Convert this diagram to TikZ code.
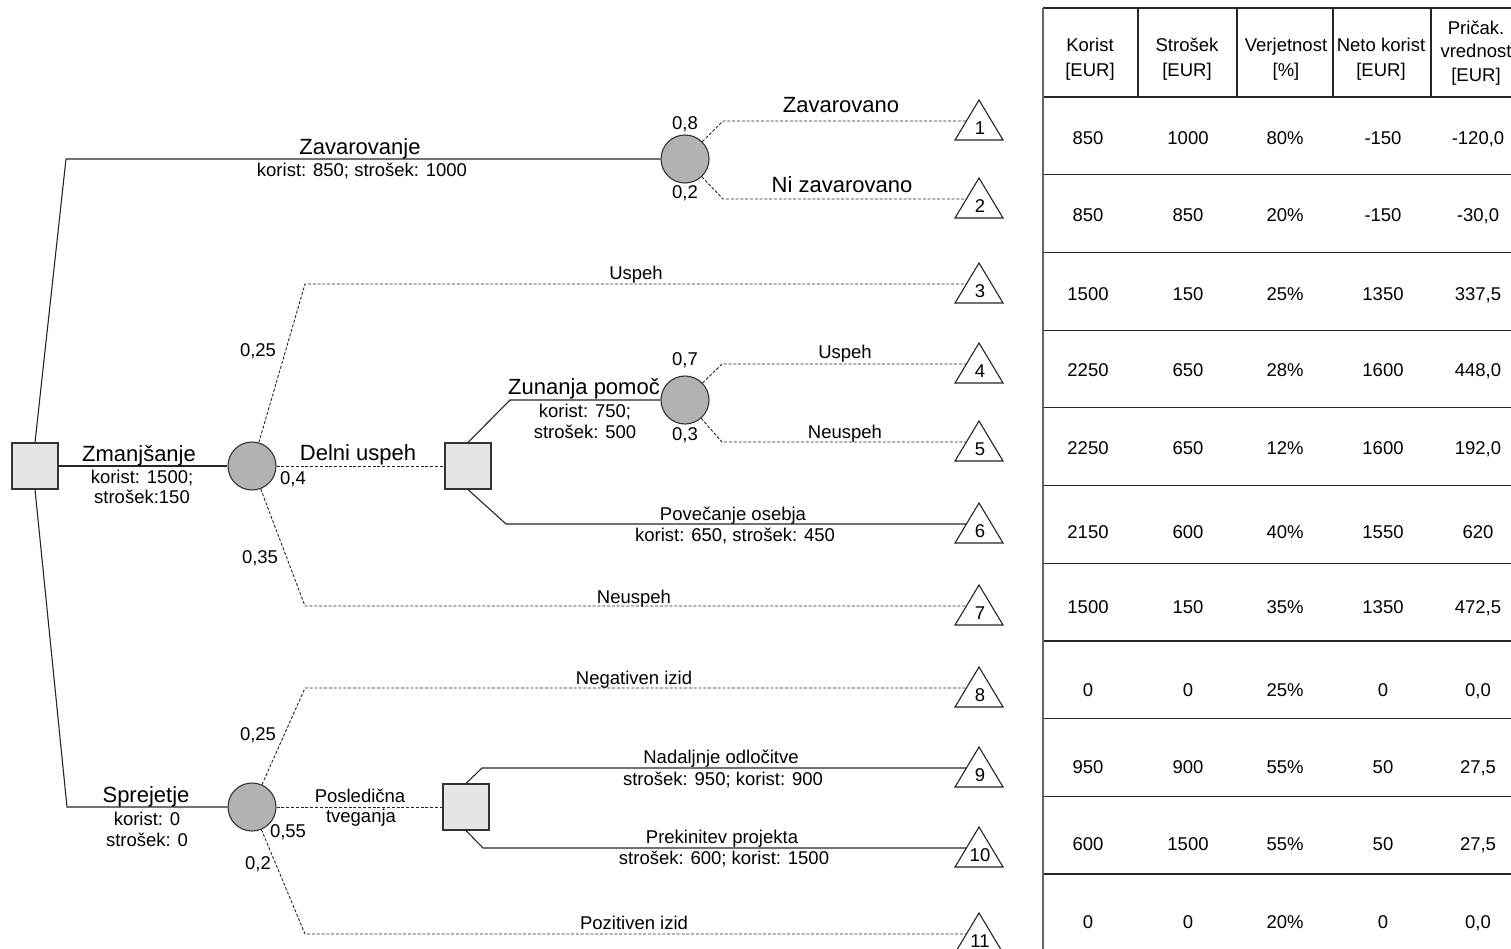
\documentclass[tikz,border=0pt]{standalone}
\usepackage{fontspec}
\setmainfont{Liberation Sans}
\newcommand\EndTri[2]{%
  \draw[tri] (979,#2-21) -- (1003,#2+19) -- (955,#2+19) -- cycle;
  \node[small] (n#1) at (980,#2+13.5) {#1};
  \coordinate (e#1) at (966.4,#2);}
\newcommand\TRow[7]{%
  \node[small] (v#1a) at (1088,#2+6.6) {#3};
  \node[small] (v#1b) at (1188,#2+6.6) {#4};
  \node[small] (v#1c) at (1285,#2+6.6) {#5};
  \node[small] (v#1d) at (1383,#2+6.6) {#6};
  \node[small] (v#1e) at (1478,#2+6.6) {#7};}
\begin{document}
\begin{tikzpicture}[x=1pt,y=-1pt,
  dec/.style={draw=black!80, fill=black!10, minimum size=46pt, inner sep=0pt, line width=1.1pt},
  chance/.style={circle, draw=black!80, fill=black!30, minimum size=48pt, inner sep=0pt, line width=1.1pt},
  conn/.style={draw=black!85, line width=1.1pt},
  dconn/.style={draw=black!85, line width=0.9pt, dash pattern=on 3pt off 1.8pt},
  tri/.style={draw=black!85, line width=1.1pt},
  tline/.style={draw=black!85, line width=1.2pt},
  big/.style={font=\fontsize{22}{24}\selectfont, inner sep=0pt, anchor=base},
  small/.style={font=\fontsize{18.5}{22}\selectfont, inner sep=0pt, anchor=base}]
\useasboundingbox (0,0) rectangle (1511,949);
\clip (0,0) rectangle (1511,949);

% ---------- nodes ----------
\node[dec] (root) at (35,466) {};
\node[chance] (C1) at (685,159) {};
\node[chance] (C2) at (252,466) {};
\node[chance] (C3) at (685,400) {};
\node[chance] (C4) at (252,807) {};
\node[dec] (D2) at (468,466) {};
\node[dec] (D3) at (466,807) {};

% ---------- end triangles ----------
\EndTri{1}{121}
\EndTri{2}{199}
\EndTri{3}{284}
\EndTri{4}{364}
\EndTri{5}{442}
\EndTri{6}{524}
\EndTri{7}{606}
\EndTri{8}{688}
\EndTri{9}{768}
\EndTri{10}{848}
\EndTri{11}{934}

% ---------- bend points ----------
\coordinate (b1) at (66,159);
\coordinate (b2) at (67,807);
\coordinate (k1) at (723,121);
\coordinate (k2) at (723,199);
\coordinate (k3) at (305,284);
\coordinate (k7) at (305,606);
\coordinate (kz) at (510,400);
\coordinate (k6) at (506,524);
\coordinate (k4) at (722,364);
\coordinate (k5) at (722,442);
\coordinate (k8) at (305,688);
\coordinate (k11) at (305,934);
\coordinate (k9) at (482,768);
\coordinate (k10) at (483,848);

% ---------- connectors ----------
\draw[conn] (root.north) -- (b1) -- (C1);
\draw[conn] (root) -- (C2);
\draw[conn] (root.south) -- (b2) -- (C4);
\draw[dconn] (C1) -- (k1) -- (e1);
\draw[dconn] (C1) -- (k2) -- (e2);
\draw[dconn] (C2) -- (k3) -- (e3);
\draw[dconn] (C2) -- (D2);
\draw[dconn] (C2) -- (k7) -- (e7);
\draw[conn] (D2.north) -- (kz) -- (C3);
\draw[conn] (D2.south) -- (k6) -- (e6);
\draw[dconn] (C3) -- (k4) -- (e4);
\draw[dconn] (C3) -- (k5) -- (e5);
\draw[dconn] (C4) -- (k8) -- (e8);
\draw[dconn] (C4) -- (D3);
\draw[dconn] (C4) -- (k11) -- (e11);
\draw[conn] (D3.north) -- (k9) -- (e9);
\draw[conn] (D3.south) -- (k10) -- (e10);

% ---------- labels ----------
\node[big] (lZav) at (360,155) {Zavarovanje};
\node[small] (lZav2) at (362,177) {korist: 850; strošek: 1000};
\node[big] (lZm) at (139,461) {Zmanjšanje};
\node[small] (lZm2) at (142,483) {korist: 1500;};
\node[small] (lZm3) at (142,503) {strošek:150};
\node[big] (lSp) at (146,802) {Sprejetje};
\node[small] (lSp2) at (147,825) {korist: 0};
\node[small] (lSp3) at (147,846) {strošek: 0};
\node[big] (lDu) at (358,460) {Delni uspeh};
\node[small] (lPt1) at (360,802) {Posledična};
\node[small] (lPt2) at (361,822) {tveganja};
\node[big] (lZp) at (584,394) {Zunanja pomoč};
\node[small] (lZp2) at (585,417) {korist: 750;};
\node[small] (lZp3) at (585,438) {strošek: 500};
\node[big] (lZo) at (841,113) {Zavarovano};
\node[big] (lNz) at (842,193) {Ni zavarovano};

\node[small] (p08) at (685,130) {0,8};
\node[small] (p02) at (685,199) {0,2};
\node[small] (p07) at (685,365) {0,7};
\node[small] (p03) at (685,440) {0,3};
\node[small] (p04) at (293,484) {0,4};
\node[small] (p055) at (288,837) {0,55};
\node[small] (p025a) at (258,356) {0,25};
\node[small] (p035) at (260,563) {0,35};
\node[small] (p025b) at (258,740) {0,25};
\node[small] (p02b) at (258,869) {0,2};

\node[small] (lU3) at (636,280) {Uspeh};
\node[small] (lU4) at (845,358) {Uspeh};
\node[small] (lN5) at (845,438) {Neuspeh};
\node[small] (lPo) at (733,520) {Povečanje osebja};
\node[small] (lPo2) at (735,541) {korist: 650, strošek: 450};
\node[small] (lN7) at (634,603) {Neuspeh};
\node[small] (lNi) at (634,684) {Negativen izid};
\node[small] (lNo) at (721,763) {Nadaljnje odločitve};
\node[small] (lNo2) at (723,785) {strošek: 950; korist: 900};
\node[small] (lPp) at (722,843) {Prekinitev projekta};
\node[small] (lPp2) at (724,864) {strošek: 600; korist: 1500};
\node[small] (lPi) at (634,929) {Pozitiven izid};

% ---------- table ----------
\draw[tline] (1043,8) -- (1520,8);
\draw[tline] (1043,97) -- (1520,97);
\foreach \xx in {1138,1237,1333,1431} \draw[tline] (\xx,8) -- (\xx,97);
\foreach \k in {1,...,10} \draw[tline] (1043,{97+77.7*\k}) -- (1520,{97+77.7*\k});
\draw[draw=black!60, line width=1.6pt] (1043,8) -- (1043,960);

\node[small] (h1a) at (1090,52) {Korist};
\node[small] (h1b) at (1090,77) {[EUR]};
\node[small] (h2a) at (1187,52) {Strošek};
\node[small] (h2b) at (1187,77) {[EUR]};
\node[small] (h3a) at (1286,52) {Verjetnost};
\node[small] (h3b) at (1286,77) {[\%]};
\node[small] (h4a) at (1381,52) {Neto korist};
\node[small] (h4b) at (1381,77) {[EUR]};
\node[small] (h5a) at (1476,35) {Pričak.};
\node[small] (h5b) at (1476,58) {vrednost};
\node[small] (h5c) at (1476,82) {[EUR]};

\TRow{1}{138}{850}{1000}{80\%}{-150}{-120,0}
\TRow{2}{215}{850}{850}{20\%}{-150}{-30,0}
\TRow{3}{294}{1500}{150}{25\%}{1350}{337,5}
\TRow{4}{370}{2250}{650}{28\%}{1600}{448,0}
\TRow{5}{448}{2250}{650}{12\%}{1600}{192,0}
\TRow{6}{532}{2150}{600}{40\%}{1550}{620}
\TRow{7}{607}{1500}{150}{35\%}{1350}{472,5}
\TRow{8}{690}{0}{0}{25\%}{0}{0,0}
\TRow{9}{767}{950}{900}{55\%}{50}{27,5}
\TRow{10}{844}{600}{1500}{55\%}{50}{27,5}
\TRow{11}{922}{0}{0}{20\%}{0}{0,0}
\end{tikzpicture}
\end{document}
